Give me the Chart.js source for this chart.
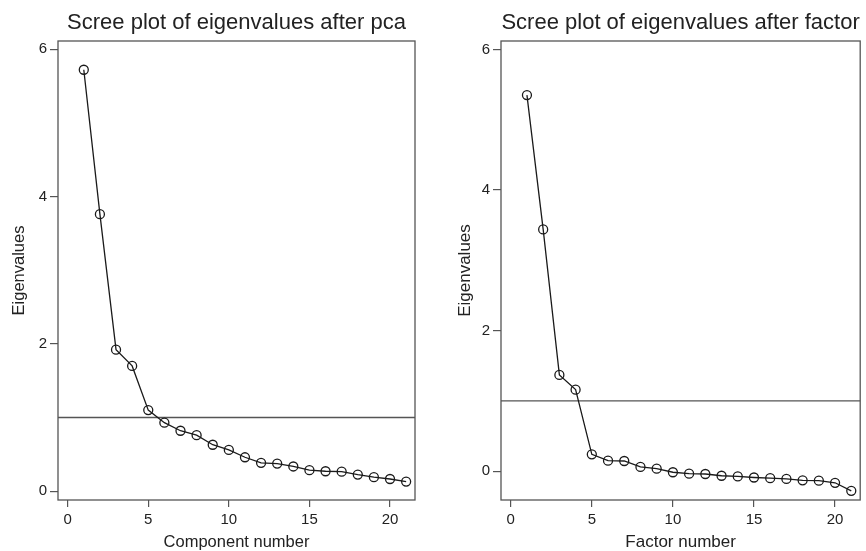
<!DOCTYPE html>
<html>
<head>
<meta charset="utf-8">
<script src="https://cdn.jsdelivr.net/npm/chart.js@4.4.1/dist/chart.umd.min.js"></script>
<style>
  html, body { margin: 0; padding: 0; background: #fff; overflow: hidden; }
  .panel { position: absolute; top: 0; width: 433px; height: 551px; }
  #left { left: 0; }
  #right { left: 433px; }
</style>
</head>
<body>
<div class="panel" id="left"><canvas id="pcaChart"></canvas></div>
<div class="panel" id="right"><canvas id="factorChart"></canvas></div>
<script>
// numéros des composantes / facteurs
const componentNumbers = [1, 2, 3, 4, 5, 6, 7, 8, 9, 10, 11, 12, 13, 14, 15, 16, 17, 18, 19, 20, 21];

// valeurs propres
const pcaEigen = [5.72, 3.76, 1.92, 1.70, 1.10, 0.93, 0.82, 0.76, 0.63, 0.56, 0.46,
                  0.385, 0.375, 0.335, 0.285, 0.27, 0.265, 0.225, 0.19, 0.165, 0.13];
const factorEigen = [5.35, 3.44, 1.37, 1.16, 0.24, 0.15, 0.145, 0.06, 0.035, -0.015, -0.035,
                     -0.04, -0.065, -0.075, -0.09, -0.10, -0.11, -0.13, -0.135, -0.165, -0.28];

const xTicks = [0, 5, 10, 15, 20];
const yTicks = [0, 2, 4, 6];
const refValue = 1; // ligne de référence (critère de Kaiser)

const FONT = "'Liberation Sans', Arial, sans-serif";
const TEXT = '#222';
const FRAME = '#555';

// cadre autour de la zone + ligne horizontale à y = 1
const framePlugin = {
    id: 'frame',
    beforeDatasetsDraw(chart) {
        const { ctx, chartArea: a, scales } = chart;
        ctx.save();
        ctx.strokeStyle = FRAME;
        ctx.lineWidth = 1.3;
        const y = scales.y.getPixelForValue(refValue);
        ctx.beginPath();
        ctx.moveTo(a.left, y);
        ctx.lineTo(a.right, y);
        ctx.stroke();
        ctx.strokeRect(a.left, a.top, a.right - a.left, a.bottom - a.top);
        ctx.restore();
    }
};

function makeChart(id, opts) {
    const pts = componentNumbers.map((n, i) => ({ x: n, y: opts.values[i] }));
    return new Chart(document.getElementById(id), {
        type: 'line',
        data: {
            datasets: [{
                data: pts,
                borderColor: '#1a1a1a',
                borderWidth: 1.3,
                pointRadius: 4.5,
                pointBorderWidth: 1.3,
                pointBorderColor: '#1a1a1a',
                pointBackgroundColor: 'rgba(0,0,0,0)',
                tension: 0
            }]
        },
        options: {
            responsive: true,
            maintainAspectRatio: false,
            animation: false,
            layout: { padding: { left: 0, right: opts.padRight, top: 0, bottom: 0 } },
            plugins: {
                legend: { display: false },
                tooltip: { enabled: false },
                title: {
                    display: true,
                    text: opts.title,
                    fullSize: false,
                    color: TEXT,
                    font: { family: FONT, size: 22, weight: 'normal', lineHeight: 1.2 },
                    padding: { top: 10, bottom: 4.6 }
                }
            },
            scales: {
                x: {
                    type: 'linear',
                    min: -0.6,
                    max: 21.55,
                    afterBuildTicks: s => { s.ticks = xTicks.map(v => ({ value: v })); },
                    afterFit: s => { s.height = 51; },
                    grid: { display: true, drawOnChartArea: false, drawTicks: true, tickLength: 7, color: FRAME, lineWidth: 1.2 },
                    border: { display: false },
                    ticks: { color: TEXT, padding: 4, maxRotation: 0, font: { family: FONT, size: 15 } },
                    title: {
                        display: true,
                        text: opts.xTitle,
                        color: TEXT,
                        font: { family: FONT, size: opts.titleSize, lineHeight: 1 },
                        padding: { top: 0, bottom: 0 }
                    }
                },
                y: {
                    min: opts.yMin,
                    max: opts.yMax,
                    afterBuildTicks: s => { s.ticks = yTicks.map(v => ({ value: v })); },
                    afterFit: s => { s.width = opts.yWidth; },
                    grid: { display: true, drawOnChartArea: false, drawTicks: true, tickLength: 8, color: FRAME, lineWidth: 1.2 },
                    border: { display: false },
                    ticks: { color: TEXT, padding: 3, font: { family: FONT, size: 15 } },
                    title: {
                        display: true,
                        text: 'Eigenvalues',
                        color: TEXT,
                        font: { family: FONT, size: opts.titleSize, lineHeight: 1 },
                        padding: { top: opts.yTitlePad, bottom: 0 }
                    }
                }
            }
        },
        plugins: [framePlugin]
    });
}

makeChart('pcaChart', {
    values: pcaEigen,
    title: 'Scree plot of eigenvalues after pca',
    xTitle: 'Component number',
    yMin: -0.12, yMax: 6.11,
    yWidth: 58, padRight: 18,
    yTitlePad: 11.5, titleSize: 16.5
});

makeChart('factorChart', {
    values: factorEigen,
    title: 'Scree plot of eigenvalues after factor',
    xTitle: 'Factor number',
    yMin: -0.41, yMax: 6.12,
    yWidth: 68, padRight: 5,
    yTitlePad: 23.5, titleSize: 17
});
</script>
</body>
</html>
